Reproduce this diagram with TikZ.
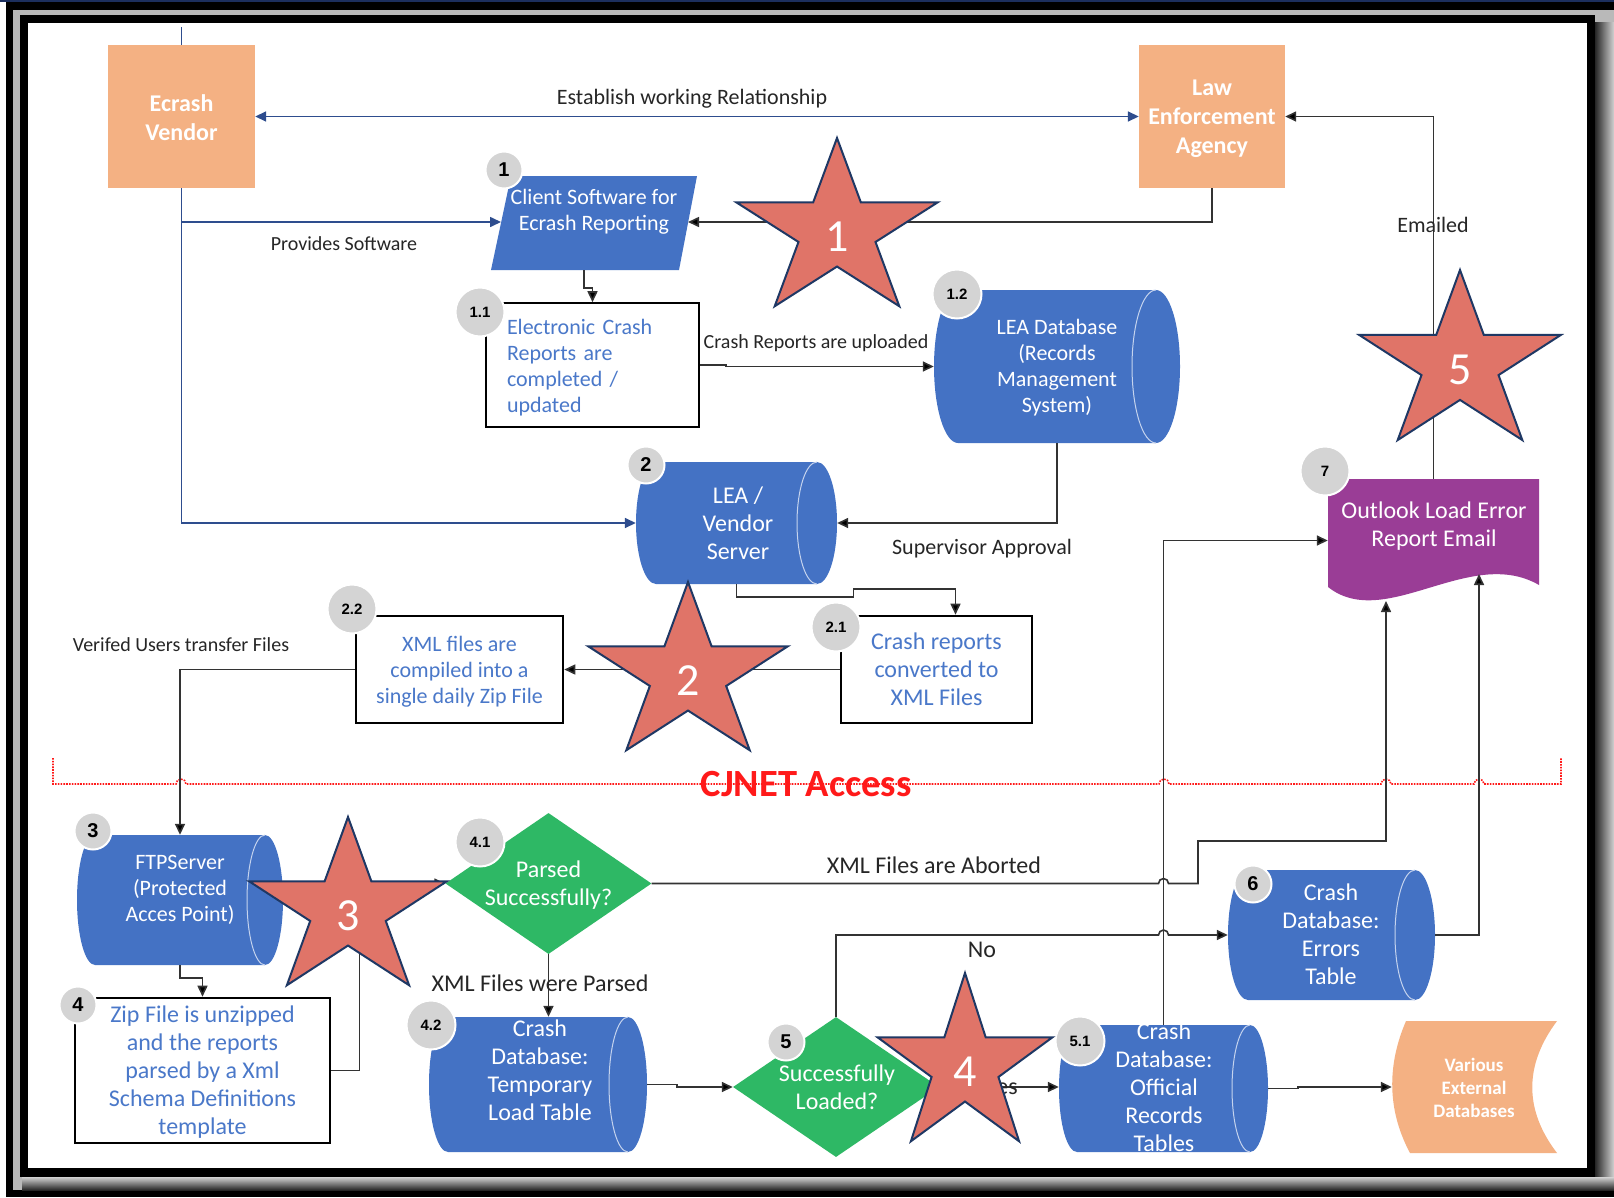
\documentclass[tikz,border=0pt]{standalone}
\usepackage{fontspec}
\setmainfont{Carlito}
\newfontfamily\badgefont{Liberation Sans}
\usetikzlibrary{arrows.meta,shapes.geometric,calc}

\definecolor{edgenavy}{HTML}{1C2F5E}
\definecolor{vendornavy}{HTML}{2E4D8E}
\definecolor{dbblue}{HTML}{4472C4}
\definecolor{rimblue}{HTML}{C5D3EE}
\definecolor{txtblue}{HTML}{4A78C9}
\definecolor{peach}{HTML}{F4B183}
\definecolor{okgreen}{HTML}{2EB865}
\definecolor{mailpurple}{HTML}{9A3D96}
\definecolor{starred}{HTML}{E07468}
\definecolor{starnavy}{HTML}{1F3864}
\definecolor{ink}{HTML}{262626}
\definecolor{badgegray}{HTML}{D4D4D4}
\definecolor{cjred}{HTML}{FF1A1A}

\newcommand\fsA{\fontsize{20}{24}\selectfont}
\newcommand\fsB{\fontsize{22}{26}\selectfont}
\newcommand\fsC{\fontsize{24}{28}\selectfont}

% horizontal database cylinder: name, x0, y0, x1, y1, end radius
\newcommand\dbcyl[6]{%
  \fill[dbblue] ({#2+#6},#3) -- ({#4-#6},#3)
    arc[start angle=-90, end angle=90, x radius=#6, y radius={(#5-#3)/2}]
    -- ({#2+#6},#5)
    arc[start angle=90, end angle=270, x radius=#6, y radius={(#5-#3)/2}] -- cycle;
  \draw[rimblue, line width=1pt] ({#4-#6},#3)
    arc[start angle=-90, end angle=-270, x radius=#6, y radius={(#5-#3)/2}];
  \node[inner sep=0pt, minimum width={(#4-#2)*1pt}, minimum height={(#5-#3)*1pt}]
    (#1) at ({(#2+#4)/2},{(#3+#5)/2}) {};
}

% five-pointed callout star: name, cx, cy, rx, ry, number
\newcommand\callstar[6]{%
  \filldraw[fill=starred, draw=starnavy, line width=2pt, line join=miter]
    plot[samples at={0,...,9}]
      ({#2+#4*(1-0.618*mod(\x,2))*cos(90+36*\x)},
       {#3-#5*(1-0.618*mod(\x,2))*sin(90+36*\x)}) -- cycle;
  \node[startxt] (#1) at (#2,{#3+6}) {#6};
}

\tikzset{
  navyline/.style={draw=vendornavy, line width=1.6pt},
  navyarrow/.style={navyline, -{Triangle[length=11pt,width=10pt]}},
  conn/.style={draw=black!80, line width=1.6pt, -{Triangle[length=11pt,width=10pt,fill=black]}},
  lbl/.style={text=ink, font=\fsB, inner sep=0pt},
  procbox/.style={draw=black, line width=2.6pt, fill=white, inner sep=0pt,
    text=txtblue, align=center, font=\fsC},
  boxtxt/.style={text=txtblue, inner sep=0pt},
  orangebox/.style={fill=peach, inner sep=0pt},
  orangetxt/.style={text=white, inner sep=0pt, align=center,
    font=\bfseries\fontsize{24}{29}\selectfont},
  decision/.style={diamond, fill=okgreen, text=white, font=\fsC, align=center, inner sep=0pt},
  cyltxt/.style={text=white, align=center, inner sep=0pt},
  badge/.style={circle, fill=badgegray, draw=white, line width=2pt, inner sep=0pt,
    text=black, minimum size=37pt, font=\badgefont\bfseries\fontsize{20}{20}\selectfont},
  badgewide/.style={badge, minimum size=49pt, font=\badgefont\bfseries\fontsize{15}{15}\selectfont},
  startxt/.style={text=white, font=\fontsize{46}{46}\selectfont, inner sep=0pt},
}

\begin{document}
\begin{tikzpicture}[x=1pt, y=1pt, yscale=-1]
\useasboundingbox (0,0) rectangle (1614,1197);

% ---------- page frame ----------
\fill[white] (0,0) rectangle (1614,1197);
\fill[black] (6,1.5) rectangle (1614,1197);
\fill[gray!55] (13,10) rectangle (1614,1190);
\shade[left color=black!85, right color=gray!35] (1595,22) rectangle (1614,1190);
\shade[top color=gray!35, bottom color=black!85] (22,1177) rectangle (1614,1190);
\fill[black] (20,15) rectangle (1595,1177);
\fill[white] (28,23) rectangle (1587,1168);
\fill[edgenavy] (0,0) rectangle (1614,1.5);

% ---------- shapes ----------
\node[orangebox, minimum width=147pt, minimum height=143pt] (vend) at (181.5,116.5) {};
\node[orangetxt] (vendt) at (181.5,118) {Ecrash\\Vendor};
\node[orangebox, minimum width=146pt, minimum height=143pt] (lea) at (1212,116.5) {};
\node[orangetxt] (leat) at (1212,119) {Law\\Enforcement\\Agency};

% client software (parallelogram)
\fill[dbblue] (511,176) -- (697,176) -- (679,270) -- (491,270) -- cycle;
\node[inner sep=0pt, minimum width=206pt, minimum height=94pt] (client) at (594,223) {};
\coordinate (clientL) at (501,222);
\coordinate (clientR) at (688,222);
\node[cyltxt, font=\fsB] (clientt) at (594,212) {Client Software for\\Ecrash Reporting};

\node[procbox, line width=1.6pt, minimum width=213pt, minimum height=124pt] (n11) at (592.5,365) {};
\node[boxtxt, text width=171pt, align=left, font=\fsB] (n11t) at (592.5,367.5)
      {Electronic Crash\\Reports are\\completed /\\updated};

\dbcyl{n12}{934}{290}{1180}{443}{24}
\node[cyltxt, font=\fsB] (n12t) at (1057,368) {LEA Database\\(Records\\Management\\System)};

\dbcyl{n2}{636}{462}{837}{584}{20}
\node[cyltxt, font=\fsC] (n2t) at (738,523) {LEA /\\Vendor\\Server};

\node[procbox, minimum width=207pt, minimum height=107pt] (n22) at (459.5,669.5) {};
\node[boxtxt, align=center, font=\fsB] (n22t) at (459.5,671.5)
      {XML files are\\compiled into a\\single daily Zip File};
\node[procbox, minimum width=191pt, minimum height=107pt] (n21) at (936.5,669.5)
      {Crash reports\\converted to\\XML Files};

% error report email (document shape)
\fill[mailpurple] (1328,479) -- (1539,479) -- (1539,585)
   .. controls (1470,545) and (1385,632) .. (1328,587) -- cycle;
\node[inner sep=0pt, minimum width=211pt, minimum height=123pt] (n7) at (1433.5,540.5) {};
\coordinate (mailin1) at (1386,601);
\coordinate (mailin2) at (1479,574);
\node[cyltxt, font=\fsC] (n7t) at (1434,526.5) {Outlook Load Error\\Report Email};

\dbcyl{n3}{77}{835}{283}{965}{18}
\node[cyltxt, font=\fsB] (n3t) at (180,890) {FTPServer\\(Protected\\Acces Point)};

\node[procbox, minimum width=255pt, minimum height=145pt] (n4) at (202.5,1070.5) {};
\node[boxtxt, align=center, font=\fsC] (n4t) at (202.5,1072.5)
      {Zip File is unzipped\\and the reports\\parsed by a Xml\\Schema Definitions\\template};

\node[decision, aspect=1.46, minimum width=206pt, minimum height=141pt] (n41) at (548.5,883.5) {};
\node[cyltxt, font=\fsC] (n41t) at (548.5,885) {Parsed\\Successfully?};

\dbcyl{n42}{429}{1017}{647}{1152}{19}
\node[cyltxt, font=\fsC] (n42t) at (540,1070) {Crash\\Database:\\Temporary\\Load Table};

\node[decision, aspect=1.47, minimum width=206pt, minimum height=140pt] (n5) at (836,1087) {};
\node[cyltxt, font=\fsC] (n5t) at (837,1087) {Successfully\\Loaded?};

\dbcyl{n6}{1228}{870}{1435}{1000}{20}
\node[cyltxt, font=\fsC] (n6t) at (1331,934.5) {Crash\\Database:\\Errors\\Table};

\dbcyl{n51}{1059}{1025}{1268}{1152}{18}
\node[cyltxt, font=\fsC] (n51t) at (1164,1087) {Crash\\Database:\\Official\\Records\\Tables};

% external databases (stored data shape)
\fill[peach] (1406,1021) -- (1557,1021)
   .. controls (1524,1065) and (1524,1110) .. (1557,1153)
   -- (1410,1153) .. controls (1387,1110) and (1387,1065) .. (1406,1021) -- cycle;
\node[inner sep=0pt, minimum width=165pt, minimum height=132pt] (ext) at (1474.5,1087) {};
\node[cyltxt, font=\bfseries\fontsize{19}{23}\selectfont] (extt) at (1474,1088) {Various\\External\\Databases};

% ---------- CJNET boundary ----------
\draw[cjred, line width=1.6pt, dash pattern=on 1.6pt off 1.2pt]
  (53,758) -- (53,784) -- (176,784) arc[start angle=180, end angle=360, radius=5]
  -- (1159,784) arc[start angle=180, end angle=360, radius=5]
  -- (1381,784) arc[start angle=180, end angle=360, radius=5]
  -- (1474,784) arc[start angle=180, end angle=360, radius=5]
  -- (1561,784) -- (1561,758);
\node[text=cjred, font=\bfseries\fontsize{38.5}{38.5}\selectfont, inner sep=0pt] (cjnet) at (806,784) {CJNET Access};

% ---------- connectors ----------
\coordinate (vendtop) at (181.5,27);
\draw[navyline] (vend.north) -- (vendtop);
\draw[navyline, {Triangle[length=11pt,width=10pt]}-{Triangle[length=11pt,width=10pt]}] (vend.east) -- (lea.west);
\draw[navyarrow] (vend.south) |- (clientL);
\draw[navyarrow] (vend.south) |- (n2.west);

\draw[conn] (lea.south) |- (clientR);
\draw[conn] (n7.north) |- (lea.east);
\draw[conn] ($(client.south)+(-10,0)$) -- ++(0,18) -| (n11.north);
\draw[conn] (n11.east) -- ++(26,0) |- (n12.west);
\draw[conn] (n12.south) |- (n2.east);
\draw[conn] (n2.south) -- ++(0,13) -- ++(117,0) -- ++(0,-8) -| ($(n21.north)+(19,0)$);
\draw[conn] (n21.west) -- (n22.east);
\draw[conn] (n22.west) -| (n3.north);
\draw[conn] (n3.south) -- ++(0,13) -| (n4.north);
\draw[conn] (n4.east) -- ++(28,0) |- (n41.west);
\draw[conn] (n41.south) -- (n41.south |- n42.north);
\coordinate (abortturn) at (1198,841);
\draw[conn] (n41.east) -- ($(n51.north |- n41.east)+(-5,0)$)
   arc[start angle=180, end angle=360, radius=5] -| (abortturn) -| (mailin1);
\draw[conn] (n42.east) -- ++(30,0) |- (n5.west);
\draw[conn] (n5.north) |- ($(n51.north |- n6.west)+(-5,0)$)
   arc[start angle=180, end angle=360, radius=5] -- (n6.west);
\draw[conn] (n5.east) -- (n5.east -| n51.west);
\draw[conn] (n51.north) |- (n7.west);
\draw[conn] (n51.east) -- ++(30,0) |- (ext.west);
\draw[conn] (n6.east) -| (mailin2);

% ---------- connector labels ----------
\node[lbl] (lrel) at (692,99) {Establish working Relationship};
\node[lbl, font=\fsA] (lprov) at (344,244) {Provides Software};
\node[lbl, font=\fsA] (lup) at (816,343) {Crash Reports are uploaded};
\node[lbl] (lsup) at (982,549) {Supervisor Approval};
\node[lbl] (lmail) at (1433,225) {Emailed};
\node[lbl, font=\fsA] (lver) at (181,645) {Verifed Users transfer Files};
\node[lbl, font=\fsC] (lparsed) at (540,983) {XML Files were Parsed};
\node[lbl, font=\fsC] (labort) at (934,865) {XML Files are Aborted};
\node[lbl, font=\fsC] (lno) at (982,950) {No};
\node[lbl, font=\fsC] (lyes) at (1002,1087) {Yes};

% ---------- step badges ----------
\node[badge] (b1) at (504,170) {1};
\node[badgewide] (b11) at (480,312) {1.1};
\node[badgewide] (b12) at (957,294) {1.2};
\node[badge] (b2) at (646,465) {2};
\node[badgewide] (b22) at (352,609) {2.2};
\node[badgewide] (b21) at (836,627) {2.1};
\node[badgewide] (b7) at (1325,471) {7};
\node[badge] (b3) at (93,831) {3};
\node[badgewide] (b41) at (480,842) {4.1};
\node[badge] (b4) at (78,1005) {4};
\node[badgewide] (b42) at (431,1025) {4.2};
\node[badge] (b5) at (786,1042) {5};
\node[badgewide] (b51) at (1080,1041) {5.1};
\node[badge] (b6) at (1253,884) {6};

% ---------- callout stars ----------
\callstar{s1}{837}{231}{106}{93}{1}
\callstar{s5}{1460}{364}{106}{94}{5}
\callstar{s2}{688}{675}{105}{93}{2}
\callstar{s3}{348}{910}{104}{93}{3}
\callstar{s4}{965}{1066}{92}{93}{4}
\end{tikzpicture}
\end{document}
